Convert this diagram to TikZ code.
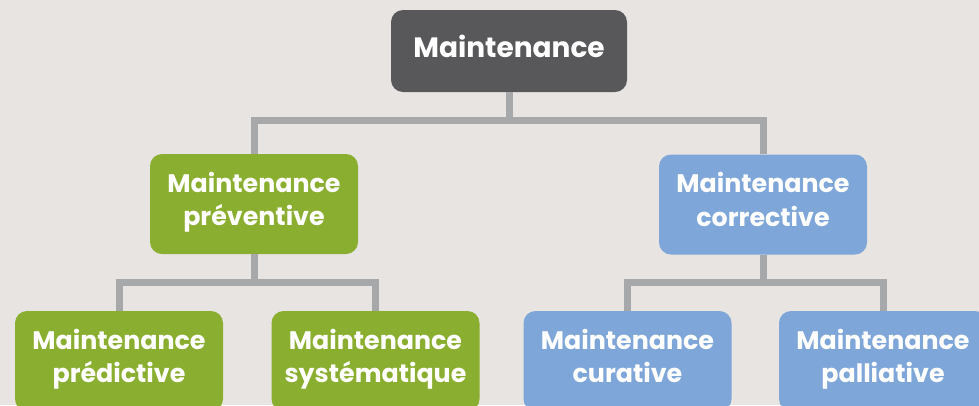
\documentclass[tikz,border=0pt]{standalone}
\usepackage{fontspec}
\setmainfont{Poppins}
\definecolor{bgc}{HTML}{E8E4E2}
\definecolor{topc}{HTML}{58585A}
\definecolor{prevc}{HTML}{8AAE2F}
\definecolor{corrc}{HTML}{7EA6D8}
\definecolor{linkc}{HTML}{A7A8AA}
\begin{document}
\begin{tikzpicture}[x=0.75pt,y=-0.75pt,
        box/.style={rounded corners=9pt,inner sep=0pt,text=white,align=center,
            font=\bfseries\fontsize{19}{25}\selectfont,
            execute at begin node=\strut,execute at end node=\strut,
            minimum width=156pt,minimum height=75pt},
        link/.style={draw=linkc,line width=5.25pt}]
\fill[bgc] (0,0) rectangle (979,405);
\useasboundingbox (0,0) rectangle (979,405);

\node[box,fill=topc,minimum width=177pt,minimum height=61.5pt,
    execute at begin node={},execute at end node={},
    font=\bfseries\fontsize{21}{25}\selectfont] (top) at (509,51) {Maintenance};
\node[box,fill=prevc] (prev) at (254,204) {Maintenance\\préventive};
\node[box,fill=corrc] (corr) at (763,204.5) {Maintenance\\corrective};
\node[box,fill=prevc] (pred) at (119,361) {Maintenance\\prédictive};
\node[box,fill=prevc] (syst) at (375.5,361) {Maintenance\\systématique};
\node[box,fill=corrc] (cura) at (627.5,361) {Maintenance\\curative};
\node[box,fill=corrc] (pall) at (883,361) {Maintenance\\palliative};

\draw[link] (top.south) -- ++(0,28) -| (prev.north);
\draw[link] (top.south) -- ++(0,28) -| (corr.north);
\draw[link] (prev.south) -- ++(0,28) -| (pred.north);
\draw[link] (prev.south) -- ++(0,28) -| (syst.north);
\draw[link] (corr.south) -- ++(0,28) -| (cura.north);
\draw[link] (corr.south) -- ++(0,28) -| (pall.north);
\end{tikzpicture}
\end{document}
